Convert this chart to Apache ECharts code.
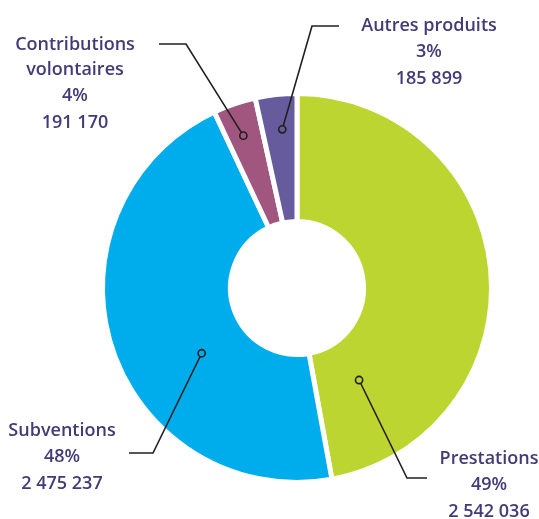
<!DOCTYPE html>
<html>
<head>
<meta charset="utf-8">
<script src="https://cdn.jsdelivr.net/npm/echarts@6/dist/echarts.min.js"></script>
<style>
html, body { margin: 0; padding: 0; background: #fff; }
#main { width: 539px; height: 519px; }
</style>
</head>
<body>
<div id="main"></div>
<script>
var names = ['Prestations', 'Subventions', 'Contributions\nvolontaires', 'Autres produits'];
var values = [2542036, 2475237, 191170, 185899];
var percents = ['49%', '48%', '4%', '3%'];
var colors = ['#bcd531', '#00adec', '#a1567f', '#665b9c'];

// pastilles : angle (degres, sens horaire depuis le haut) et distance au centre
var dotAngle = [146, 235.6, 340.6, 354.7];
var dotRadius = [111, 115.5, 161.5, 159.4];
// coude et bout des traits, coin haut-centre du texte
var elbow = [[407, 478], [153, 453], [186, 44], [312, 26]];
var lineEnd = [[427, 478], [129, 453], [159, 44], [339, 26]];
var labelPos = [[489, 446], [62, 418], [75, 32], [429, 13]];

var cx = 297, cy = 288;

function dotPoint(i) {
    var a = dotAngle[i] * Math.PI / 180;
    return [cx + dotRadius[i] * Math.sin(a), cy - dotRadius[i] * Math.cos(a)];
}

function fmt(v) {
    return String(v).replace(/\B(?=(\d{3})+(?!\d))/g, ' ');
}

var data = [];
for (var i = 0; i < names.length; i++) {
    data.push({ name: names[i], value: values[i], itemStyle: { color: colors[i] } });
}

// traits de rappel + pastilles par dessus les secteurs
var marks = [];
for (var i = 0; i < names.length; i++) {
    var p = dotPoint(i);
    marks.push({
        type: 'polyline',
        z: 99,
        shape: { points: [p, elbow[i], lineEnd[i]] },
        style: { fill: null, stroke: '#231f20', lineWidth: 1.6 }
    });
    marks.push({
        type: 'circle',
        z: 100,
        shape: { cx: p[0], cy: p[1], r: 3.6 },
        style: { fill: colors[i], stroke: '#231f20', lineWidth: 1.6 }
    });
}

var txt = { color: '#433a78', fontFamily: 'Open Sans', fontWeight: 600, fontSize: 18 };

var chart = echarts.init(document.getElementById('main'));
chart.setOption({
    animation: false,
    backgroundColor: '#fff',
    series: [{
        type: 'pie',
        center: [cx, cy],
        radius: [66.5, 194.5],
        startAngle: 90,
        clockwise: true,
        silent: true,
        avoidLabelOverlap: false,
        itemStyle: { borderColor: '#fff', borderWidth: 5 },
        label: {
            show: true,
            overflow: 'none',
            formatter: function (p) {
                var lines = names[p.dataIndex].split('\n');
                var s = [];
                for (var k = 0; k < lines.length; k++) s.push('{n|' + lines[k] + '}');
                s.push('{p|' + percents[p.dataIndex] + '}');
                s.push('{v|' + fmt(values[p.dataIndex]) + '}');
                return s.join('\n');
            },
            color: txt.color,
            fontFamily: txt.fontFamily,
            fontWeight: txt.fontWeight,
            fontSize: txt.fontSize,
            rich: {
                n: Object.assign({ lineHeight: 25 }, txt),
                p: Object.assign({ lineHeight: 27 }, txt),
                v: Object.assign({ lineHeight: 28 }, txt)
            }
        },
        labelLine: { show: false },
        labelLayout: function (params) {
            var i = params.dataIndex;
            return {
                x: labelPos[i][0],
                y: labelPos[i][1],
                align: 'center',
                verticalAlign: 'top',
                hideOverlap: false
            };
        },
        data: data
    }],
    graphic: marks
});
</script>
</body>
</html>
